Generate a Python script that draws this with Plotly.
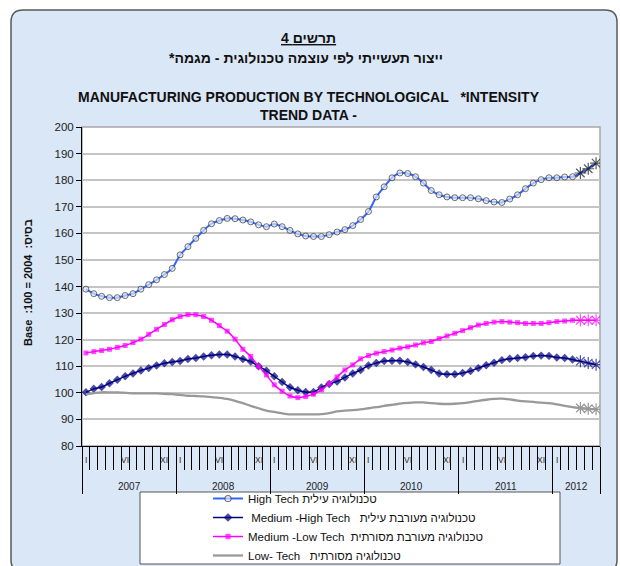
import plotly.graph_objects as go

# ---------------- data ----------------
years = [2007, 2008, 2009, 2010, 2011, 2012]
months_in_year = [12, 12, 12, 12, 12, 6]
month_labels_full_year = ["I", "", "", "", "", "VI", "", "", "", "", "XI", ""]
month_labels_2012 = ["I", "", "", "", "", ""]
month_labels = month_labels_full_year * 5 + month_labels_2012

series_names = [
    "High Tech טכנולוגיה עילית",
    "\u00a0Medium -High Tech\u00a0\u00a0 טכנולוגיה מעורבת עילית",
    "Medium -Low Tech\u00a0 טכנולוגיה מעורבת מסורתית",
    "Low- Tech\u00a0\u00a0 טכנולוגיה מסורתית",
]

high_tech = [139.0, 137.3, 136.3, 135.8, 135.8, 136.6, 137.3, 139.0, 140.7, 142.5, 144.5, 146.8,
             151.9, 155.0, 158.1, 161.1, 163.6, 164.8, 165.6, 165.5, 165.0, 164.3, 163.2, 162.5,
             163.5, 162.5, 161.1, 159.8, 159.0, 158.8, 158.8, 159.5, 160.5, 161.4, 162.9, 165.2,
             168.2, 173.7, 177.5, 180.9, 182.7, 182.5, 181.3, 178.9, 176.1, 174.5, 173.7, 173.4,
             173.4, 173.4, 173.0, 172.3, 171.8, 171.6, 172.9, 174.5, 176.8, 178.9, 180.2, 180.9,
             180.9, 181.2, 181.3, 182.7, 184.3, 186.4]

medium_high = [100.2, 101.5, 102.2, 103.6, 104.9, 106.2, 107.3, 108.4, 109.3, 110.3, 111.1, 111.6,
               112.0, 112.7, 113.1, 113.7, 114.1, 114.4, 114.4, 113.7, 112.7, 111.8, 110.0, 108.3,
               106.2, 104.1, 102.1, 101.0, 100.3, 100.3, 102.0, 103.3, 104.3, 105.8, 107.3, 108.6,
               110.3, 111.2, 112.0, 112.1, 112.1, 111.6, 110.7, 109.7, 108.6, 107.3, 107.0, 107.0,
               107.5, 108.2, 109.3, 110.4, 111.3, 112.3, 112.8, 113.1, 113.4, 113.9, 114.0, 113.9,
               113.3, 113.1, 112.5, 111.9, 111.2, 110.6]

medium_low = [115.0, 115.5, 115.9, 116.4, 117.1, 117.8, 118.9, 120.2, 122.0, 123.9, 125.7, 127.5,
              128.7, 129.4, 129.4, 128.7, 127.3, 125.3, 123.2, 120.2, 116.4, 113.7, 110.0, 106.7,
              103.0, 100.6, 98.8, 98.2, 98.6, 99.5, 101.1, 103.5, 106.0, 108.6, 110.5, 112.8,
              114.0, 114.9, 115.5, 116.1, 116.8, 117.3, 118.0, 118.8, 119.3, 120.4, 121.4, 122.4,
              123.4, 124.5, 125.5, 126.1, 126.6, 126.8, 126.6, 126.4, 126.1, 126.1, 126.1, 126.4,
              126.8, 127.0, 127.3, 127.3, 127.3, 127.3]

low_tech = [99.4, 99.9, 100.2, 100.2, 100.2, 100.0, 99.8, 99.8, 99.8, 99.8, 99.6, 99.5,
            99.2, 98.9, 98.8, 98.7, 98.4, 98.1, 97.7, 97.0, 96.1, 95.1, 94.2, 93.3,
            92.8, 92.3, 91.9, 91.9, 91.9, 91.9, 92.0, 92.4, 93.0, 93.3, 93.5, 93.8,
            94.2, 94.6, 95.1, 95.5, 95.9, 96.2, 96.4, 96.4, 96.1, 95.9, 95.8, 95.9,
            96.1, 96.5, 97.0, 97.4, 97.7, 97.8, 97.5, 97.1, 96.8, 96.6, 96.3, 96.1,
            95.7, 95.1, 94.6, 94.3, 94.0, 93.8]

n_provisional = 3  # last points drawn with asterisks

y_ticks = [80, 90, 100, 110, 120, 130, 140, 150, 160, 170, 180, 190, 200]

# ---------------- helpers ----------------
W, H = 620, 566
L, R, T, B = 82, 600, 127, 446


def PX(x):
    return (x - L) / (R - L)


def PY(y):
    return (B - y) / (B - T)


FONT = "Liberation Sans, Arial, DejaVu Sans, sans-serif"
n = len(high_tech)
x = list(range(n))
k = n - n_provisional

fig = go.Figure()


def arr(a, b):
    return [a] * k + [b] * n_provisional


fig.add_trace(go.Scatter(
    x=x, y=high_tech, name=series_names[0], mode="lines+markers",
    line=dict(color="#3366ff", width=2, shape="spline", smoothing=0.6),
    marker=dict(symbol=arr("circle", "asterisk-open"), size=arr(6, 10),
                color=arr("#dde6f8", "#111111"),
                line=dict(color=arr("#333333", "#111111"), width=arr(1, 1.2))),
))
fig.add_trace(go.Scatter(
    x=x, y=medium_high, name=series_names[1], mode="lines+markers",
    line=dict(color="#000080", width=1.5, shape="spline", smoothing=0.6),
    marker=dict(symbol=arr("diamond", "asterisk-open"), size=arr(6.5, 10),
                color=arr("#000080", "#000080"),
                line=dict(color=arr("#000080", "#000080"), width=arr(0, 1.2))),
))
fig.add_trace(go.Scatter(
    x=x, y=medium_low, name=series_names[2], mode="lines+markers",
    line=dict(color="#ff00ff", width=1.5, shape="spline", smoothing=0.6),
    marker=dict(symbol=arr("square", "asterisk-open"), size=arr(5, 10),
                color=arr("#ff00ff", "#ff00ff"),
                line=dict(color=arr("#ff00ff", "#ff00ff"), width=arr(0, 1.2))),
))
fig.add_trace(go.Scatter(
    x=x, y=low_tech, name=series_names[3], mode="lines",
    line=dict(color="#999999", width=2.3, shape="spline", smoothing=0.6),
))
fig.add_trace(go.Scatter(
    x=x[k:], y=low_tech[k:], mode="markers", showlegend=False, hoverinfo="skip",
    marker=dict(symbol="asterisk-open", size=10, color="#999999",
                line=dict(color="#999999", width=1.2)),
))

# year boundaries on an overlay axis (long ticks)
bounds = [-0.5]
for m in months_in_year:
    bounds.append(bounds[-1] + m)
fig.add_trace(go.Scatter(x=[None], y=[None], xaxis="x2", showlegend=False, hoverinfo="skip"))

# ---------------- shapes ----------------
r = 12
fl, ft, fr, fb = 11, 10, 617, 572
frame_path = (
    f"M {PX(fl)},{PY(fb - r)} L {PX(fl)},{PY(ft + r)} Q {PX(fl)},{PY(ft)} {PX(fl + r)},{PY(ft)} "
    f"L {PX(fr - r)},{PY(ft)} Q {PX(fr)},{PY(ft)} {PX(fr)},{PY(ft + r)} "
    f"L {PX(fr)},{PY(fb - r)} Q {PX(fr)},{PY(fb)} {PX(fr - r)},{PY(fb)} "
    f"L {PX(fl + r)},{PY(fb)} Q {PX(fl)},{PY(fb)} {PX(fl)},{PY(fb - r)} Z"
)
shapes = [
    dict(type="path", xref="paper", yref="paper", path=frame_path,
         fillcolor="#dae7f6", line=dict(color="#5a5a5a", width=1.5), layer="below"),
    dict(type="rect", xref="paper", yref="paper", x0=0, x1=1, y0=0, y1=1,
         fillcolor="white", line=dict(color="#a6a6a6", width=1.5), layer="below"),
    dict(type="rect", xref="paper", yref="paper", x0=PX(140), x1=PX(560), y0=PY(564), y1=PY(492),
         fillcolor="white", line=dict(color="#555555", width=1), layer="below"),
]

# ---------------- annotations ----------------
ann = []


def note(text, xp, yp, size, xref="paper", **kw):
    d = dict(text=text, x=xp, y=PY(yp), xref=xref, yref="paper", showarrow=False,
             xanchor="center", yanchor="middle",
             font=dict(size=size, family=FONT, color=kw.pop("color", "#111")))
    d.update(kw)
    ann.append(d)


note("<b><u>4 תרשים</u></b>", PX(308), 38, 14)
note("<b>*ייצור תעשייתי לפי עוצמה טכנולוגית - מגמה</b>", PX(306), 58, 14)
note("<b>MANUFACTURING PRODUCTION BY TECHNOLOGICAL\u00a0\u00a0\u00a0*INTENSITY</b>", PX(309), 96.5, 14)
note("<b>TREND DATA -</b>", PX(308.5), 114.5, 14)
note("<b>Base\u00a0\u00a0:100 = 2004\u00a0\u00a0:בסיס</b>", PX(28), 283, 11, textangle=-90)
for i, lab in enumerate(month_labels):
    if lab:
        note(lab, i, 460, 8.5, xref="x", color="#2a2a2a")
for j, yr in enumerate(years):
    cx = (bounds[j] + bounds[j + 1]) / 2
    note(str(yr), cx, 486, 10, xref="x", color="#222")

fig.update_layout(
    width=W, height=H,
    margin=dict(l=L, r=W - R, t=T, b=H - B, autoexpand=False),
    paper_bgcolor="white", plot_bgcolor="rgba(0,0,0,0)",
    shapes=shapes, annotations=ann,
    showlegend=True,
    legend=dict(x=PX(208), y=PY(484), xanchor="left", yanchor="top",
                bgcolor="rgba(0,0,0,0)", borderwidth=0, tracegroupgap=0,
                font=dict(size=11.5, family=FONT, color="#111")),
    xaxis=dict(range=[-0.5, n - 0.5], tickmode="array", tickvals=[i - 0.5 for i in range(n + 1)],
               ticks="outside", ticklen=23, tickwidth=1, tickcolor="black",
               showticklabels=False, showgrid=False, zeroline=False,
               showline=True, linecolor="black", linewidth=1),
    xaxis2=dict(range=[-0.5, n - 0.5], overlaying="x", anchor="y", side="bottom",
                tickmode="array", tickvals=bounds, ticks="outside", ticklen=47, tickwidth=1,
                tickcolor="black", showticklabels=False, showgrid=False, zeroline=False,
                showline=False),
    yaxis=dict(range=[80, 200], tickmode="array", tickvals=y_ticks,
               ticks="outside", ticklen=5, tickcolor="black",
               tickfont=dict(size=11.5, family=FONT, color="#222"),
               showline=True, linecolor="black", linewidth=1,
               showgrid=True, gridcolor="#c4c4c4", gridwidth=1.5, zeroline=False),
)

fig.write_html("out.html", config={"displayModeBar": False},
               post_script="document.body.style.margin='0px';document.body.style.overflow='hidden';")
